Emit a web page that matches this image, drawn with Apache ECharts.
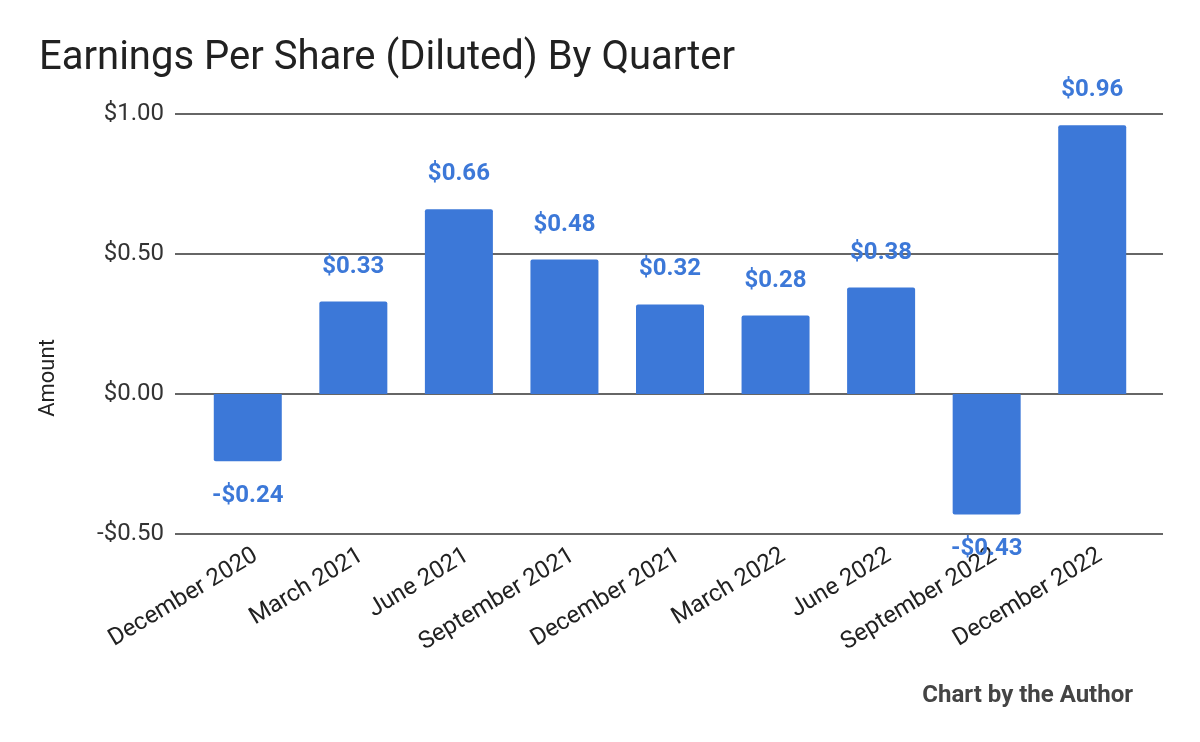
<!DOCTYPE html>
<html>
<head>
<meta charset="utf-8">
<script src="https://cdn.jsdelivr.net/npm/echarts@6/dist/echarts.min.js"></script>
<style>
  html, body { margin: 0; padding: 0; background: #fff; }
  #chart { width: 1200px; height: 742px; }
</style>
</head>
<body>
<div id="chart"></div>
<script>
// quarters and diluted EPS
var quarters = ['December 2020', 'March 2021', 'June 2021', 'September 2021', 'December 2021',
  'March 2022', 'June 2022', 'September 2022', 'December 2022']
var eps = [-0.24, 0.33, 0.66, 0.48, 0.32, 0.28, 0.38, -0.43, 0.96]
var yTicks = [-0.5, 0, 0.5, 1.0]

var blue = '#3c78d8'
var font = 'Roboto, "Open Sans", sans-serif'

function money(v) {
  return (v < 0 ? '-$' : '$') + Math.abs(v).toFixed(2)
}

var chart = echarts.init(document.getElementById('chart'))
chart.setOption({
  animation: false,
  textStyle: { fontFamily: font },
  title: [{
    text: 'Earnings Per Share (Diluted) By Quarter',
    left: 34,
    top: 34,
    textStyle: { fontSize: 40, fontWeight: 'normal', color: '#212121', fontFamily: font }
  }, {
    text: 'Chart by the Author',
    right: 62,
    top: 679,
    textStyle: { fontSize: 24, fontWeight: 'bold', color: '#444', fontFamily: font }
  }],
  graphic: [{
    type: 'text',
    x: 48,
    y: 378,
    rotation: Math.PI / 2,
    style: {
      text: 'Amount',
      fontSize: 22,
      fill: '#222',
      fontFamily: font,
      align: 'center',
      verticalAlign: 'middle'
    }
  }],
  grid: [
    // gridlines + y labels (lines run a bit wider than the bars)
    { left: 175, right: 37, top: 114, bottom: 208 },
    // bars
    { left: 195, right: 55, top: 114, bottom: 208 },
    // rotated quarter labels, nudged right like the original
    { left: 203, right: 47, top: 114, bottom: 208 }
  ],
  xAxis: [{
    gridIndex: 0,
    type: 'value',
    show: false
  }, {
    gridIndex: 1,
    type: 'category',
    data: quarters,
    axisLine: { show: false },
    axisTick: { show: false },
    axisLabel: { show: false }
  }, {
    gridIndex: 2,
    type: 'category',
    data: quarters,
    axisLine: { show: false },
    axisTick: { show: false },
    axisLabel: {
      interval: 0,
      rotate: 31,
      margin: 20,
      fontSize: 24,
      color: '#222',
      fontFamily: font
    }
  }],
  yAxis: [{
    gridIndex: 0,
    type: 'value',
    min: yTicks[0],
    max: yTicks[yTicks.length - 1],
    interval: 0.5,
    axisLine: { show: false },
    axisTick: { show: false },
    axisLabel: {
      margin: 11,
      fontSize: 24,
      color: '#333',
      fontFamily: font,
      formatter: money
    },
    splitLine: { lineStyle: { color: '#333', width: 1.5 } }
  }, {
    gridIndex: 1,
    type: 'value',
    min: yTicks[0],
    max: yTicks[yTicks.length - 1],
    interval: 0.5,
    show: false,
    splitLine: { show: false }
  }, {
    gridIndex: 2,
    type: 'value',
    min: yTicks[0],
    max: yTicks[yTicks.length - 1],
    interval: 0.5,
    show: false,
    splitLine: { show: false }
  }],
  series: [{
    type: 'bar',
    xAxisIndex: 1,
    yAxisIndex: 1,
    barWidth: 68,
    data: eps.map(function (v) {
      return {
        value: v,
        itemStyle: { borderRadius: v < 0 ? [0, 0, 2, 2] : [2, 2, 0, 0] },
        label: { position: v < 0 ? 'bottom' : 'top' }
      }
    }),
    itemStyle: { color: blue },
    label: {
      show: true,
      distance: 23,
      fontSize: 24,
      fontWeight: 'bold',
      color: blue,
      fontFamily: font,
      formatter: function (p) { return money(p.value) }
    }
  }]
})
</script>
</body>
</html>
